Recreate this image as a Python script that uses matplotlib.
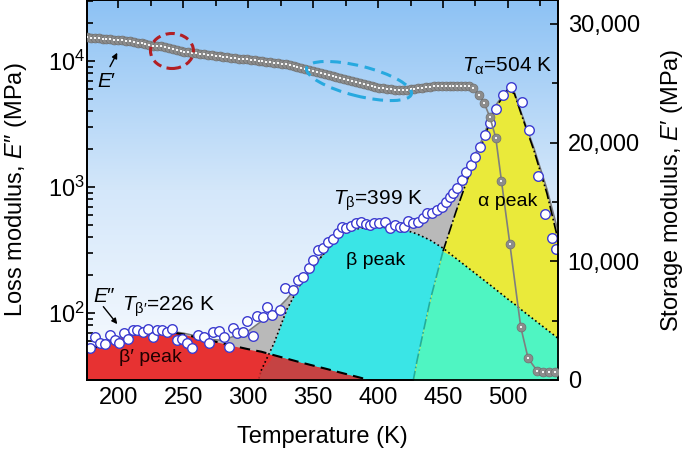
import numpy as np
import matplotlib.pyplot as plt
from matplotlib.colors import LinearSegmentedColormap
from matplotlib.patches import Ellipse
from matplotlib.ticker import MultipleLocator, FixedLocator, FuncFormatter
from matplotlib.transforms import Affine2D, ScaledTranslation

plt.rcParams['font.family'] = ['Liberation Sans', 'DejaVu Sans']
plt.rcParams['mathtext.fontset'] = 'custom'
plt.rcParams['mathtext.rm'] = 'Liberation Sans'
plt.rcParams['mathtext.it'] = 'Liberation Sans:italic'
plt.rcParams['mathtext.bf'] = 'Liberation Sans:bold'

# storage modulus E' (right axis, MPa)
T_stor = np.r_[np.arange(176, 474, 3),
               [477.8, 481.6, 486.0, 490.6, 495.0, 501.4, 509.8, 515.5, 522.4, 527.0, 531.6, 536.0]]
E_stor = [28870, 28840, 28810, 28780, 28750, 28720, 28690, 28670, 28640, 28600,
          28560, 28510, 28470, 28420, 28360, 28300, 28250, 28160, 28130, 28100,
          28060, 27980, 27880, 27790, 27720, 27660, 27600, 27550, 27510, 27470,
          27430, 27390, 27350, 27320, 27280, 27240, 27200, 27150, 27100, 27060,
          27020, 26990, 26960, 26920, 26880, 26840, 26800, 26750, 26710, 26660,
          26620, 26570, 26500, 26420, 26320, 26250, 26170, 26080, 25990, 25910,
          25830, 25750, 25660, 25580, 25500, 25420, 25340, 25260, 25170, 25090,
          25010, 24930, 24850, 24770, 24700, 24630, 24570, 24520, 24480, 24450,
          24440, 24440, 24450, 24480, 24530, 24580, 24630, 24670, 24700, 24720,
          24740, 24760, 24770, 24790, 24800, 24800, 24790, 24770, 24720, 24580,
          24030, 23340, 22160, 20400, 16750, 11490, 4480, 1820, 780, 650, 650, 650]

# loss modulus E'' (left axis, MPa)
T_loss = [178.3, 182.2, 186.0, 189.8, 193.7, 197.5, 200.6, 204.5, 207.5, 211.4,
          214.5, 219.1, 222.9, 226.8, 229.8, 233.7, 237.5, 241.4, 245.2, 249.1,
          252.9, 256.8, 261.4, 266.0, 269.8, 272.9, 277.5, 281.4, 285.2, 288.3,
          291.4, 296.0, 299.1, 303.7, 306.8, 311.4, 314.5, 318.3, 324.5, 328.3,
          334.5, 338.3, 342.2, 346.8, 349.8, 353.7, 357.5, 361.4, 365.2, 369.1,
          372.2, 375.2, 379.1, 382.9, 386.8, 390.6, 393.7, 396.8, 400.6, 405.2,
          409.1, 412.9, 416.8, 419.8, 422.9, 426.8, 430.6, 434.5, 437.5, 441.4,
          445.2, 449.1, 452.2, 455.2, 457.5, 460.6, 464.5, 467.5, 471.4, 474.5,
          478.3, 482.2, 486.0, 490.6, 496.0, 502.2, 510.6, 516.0, 522.9, 528.3,
          533.7, 536.8]
E_loss = [52.7, 64.6, 57.8, 56.8, 66.8, 61.1, 57.8, 69.3, 62.2, 73.3,
          73.3, 70.6, 74.7, 64.6, 73.3, 73.3, 70.6, 74.7, 61.1, 62.2,
          57.8, 52.7, 66.8, 64.6, 57.8, 70.6, 71.9, 64.6, 53.7, 76.0,
          69.3, 70.6, 86.5, 65.7, 94.6, 92.9, 111.6, 96.4, 105.6, 158,
          152, 183, 193, 228, 264, 316, 328, 366, 387, 431,
          482, 473, 490, 518, 527, 508, 499, 518, 518, 527,
          473, 499, 482, 482, 537, 518, 527, 568, 622, 622,
          657, 693, 760, 834, 896, 982, 1137, 1316, 1496, 1731,
          2076, 2587, 3222, 4160, 5370, 6220, 4730, 2830, 1222, 611,
          393, 322]

# fitted relaxation peaks and their sum
T_fit = [170, 180, 190, 200, 210, 220, 230, 240, 250, 260, 270, 280, 290, 300,
         310, 320, 330, 340, 350, 360, 370, 380, 390, 400, 410, 420, 430, 440,
         450, 460, 470, 480, 490, 500, 505, 510, 520, 530, 540]
beta1_pk = [46, 52, 58, 63, 67, 69.5, 70.8, 70.8, 68, 64.5, 61, 57.8, 54.6, 51.8,
            49.5, 46.4, 43.5, 40.8, 38.4, 36.2, 34.0, 32.0, 30.1, 28.3, 26.6, 25, 23.5, 22,
            20.7, 19.5, 18.3, 17.2, 16.2, 15.3, 14.8, 14.4, 13.5, 12.7, 12]
beta_pk = [2, 2, 2, 2, 2, 2, 2, 2, 2, 2, 2, 3, 6, 15,
           35, 58, 108, 168, 235, 310, 410, 460, 478, 482, 475, 460, 425, 380,
           328, 272, 226, 188, 156, 129, 118, 107, 89, 74, 61.5]
alpha_pk = [2, 2, 2, 2, 2, 2, 2, 2, 2, 2, 2, 2, 2, 2,
            2, 2, 2, 2, 2, 2, 2, 2, 2, 2, 2, 12, 42, 125,
            310, 640, 1250, 2200, 4200, 5950, 5500, 3850, 1950, 890, 330]
total_fit = [47, 53, 59, 64, 68, 70.5, 72, 72, 69.5, 66, 62, 61, 66, 72,
             86, 102, 130, 175, 228, 320, 420, 482, 505, 512, 510, 515, 545, 600,
             680, 960, 1450, 2380, 4380, 6080, 5620, 3960, 2040, 965, 392]

T_fit = np.array(T_fit)
beta1_pk = np.array(beta1_pk)
beta_pk = np.array(beta_pk)
alpha_pk = np.array(alpha_pk)
total_fit = np.array(total_fit)

fig = plt.figure(figsize=(6.85, 4.5), dpi=100)
rect = [87/685, 70/450, 471/685, 380/450]

# blue-to-white background
bg = fig.add_axes(rect, zorder=-1)
grad = np.linspace(0, 1, 256).reshape(-1, 1)
cmap = LinearSegmentedColormap.from_list('bg', ['#fafcff', '#d4e7fa', '#8dc2f4'])
bg.imshow(grad, aspect='auto', cmap=cmap, origin='lower', extent=[0, 1, 0, 1])
bg.axis('off')

ax = fig.add_axes(rect)
ax.patch.set_alpha(0)
ax.set_yscale('log')

base = 1
ax.fill_between(T_fit, base, total_fit, color='#b9b9b9', lw=0, zorder=1)
ax.fill_between(T_fit, base, beta_pk, color='#3ae5e6', lw=0, zorder=2)
ax.fill_between(T_fit, base, alpha_pk, color='#eaea3a', lw=0, zorder=2)
ax.fill_between(T_fit, base, beta1_pk, color='#e73232', lw=0, zorder=2)
ax.fill_between(T_fit, base, np.minimum(beta_pk, alpha_pk), color='#4ff5c2', lw=0, zorder=3)
ax.fill_between(T_fit, base, np.minimum(beta1_pk, beta_pk), color='#c54343', lw=0, zorder=3)

ax.plot(T_fit, total_fit, color='#7a7a7a', lw=1.1, zorder=4)
ax.plot(T_fit, beta1_pk, color='k', ls=(0, (5, 3)), lw=1.5, zorder=4)
m = T_fit >= 310
ax.plot(T_fit[m], beta_pk[m], color='k', ls=':', lw=1.2, zorder=4)
ax.plot(T_fit[~m | (T_fit == 310)], beta_pk[~m | (T_fit == 310)], color='#a82a2a', ls=':', lw=1.2, zorder=4)
m = T_fit >= 450
ax.plot(T_fit[m], alpha_pk[m], color='k', ls='-.', lw=1.2, zorder=4)
ax.plot(T_fit[T_fit <= 450], alpha_pk[T_fit <= 450], color='#1fae9e', ls='-.', lw=1.2, zorder=4)

ax.plot(T_loss, E_loss, 'o', ms=6.9, mfc='white', mec='#3b3bd0', mew=1.0, zorder=6)

ax.set_xlim(176, 538.5)
ax.set_ylim(29.5, 30500)

ax2 = ax.twinx()
ax2.plot(T_stor, E_stor, '-', color='#7f7f7f', lw=1.2, zorder=3)
ax2.plot(T_stor, E_stor, 'o', ms=6.4, mfc='#8c8c8c', mec='#6f6f6f', mew=0.5, zorder=4)
ax2.plot(T_stor, E_stor, 's', ms=2.0, color='#f4f4f4', mew=0, zorder=5)
ax2.set_ylim(0, 32000)
ax2.set_xlim(176, 538.5)

# ticks
ax.xaxis.set_major_locator(MultipleLocator(50))
ax.xaxis.set_minor_locator(MultipleLocator(25))
ax.tick_params(which='both', direction='in', top=True, right=False, labelsize=17, width=1.2)
ax.tick_params(which='major', length=6)
ax.tick_params(which='minor', length=4)
ax.tick_params(axis='x', pad=5)
ax.tick_params(axis='y', pad=1.5)
ax2.yaxis.set_major_locator(FixedLocator([0, 10000, 20000, 30000]))
ax2.yaxis.set_minor_locator(MultipleLocator(5000))
ax2.yaxis.set_major_formatter(FuncFormatter(lambda v, p: f'{int(v):,}'))
ax2.tick_params(which='both', direction='in', labelsize=17, width=1.2, pad=7)
ax2.tick_params(which='major', length=6)
ax2.tick_params(which='minor', length=4)
for a in (ax, ax2):
    for s in a.spines.values():
        s.set_linewidth(1.3)

ax.set_xlabel('Temperature (K)', fontsize=17)
ax.xaxis.set_label_coords(0.5, -0.122)
ax.set_ylabel('Loss modulus, $\\mathit{E}$\u2033 (MPa)', fontsize=17)
ax.yaxis.set_label_coords(-0.123, 0.5)
ax2.set_ylabel('Storage modulus, $\\mathit{E}$\u2032 (MPa)', fontsize=17)
ax2.yaxis.set_label_coords(1.214, 0.5)

# annotations
tA = ax.transAxes
ax2.text(0.892, 0.8105, '$\\mathit{T}_{\\mathrm{\u03b1}}$=504 K', transform=tA, ha='center', va='baseline', fontsize=15, zorder=9)
ax2.text(0.619, 0.4605, '$\\mathit{T}_{\\mathrm{\u03b2}}$=399 K', transform=tA, ha='center', va='baseline', fontsize=15, zorder=9)
ax2.text(0.172, 0.182, '$\\mathit{T}_{\\mathrm{\u03b2\u2032}}$=226 K', transform=tA, ha='center', va='baseline', fontsize=15, zorder=9)
ax2.text(0.021, 0.771, '$\\mathit{E}$\u2032', transform=tA, ha='left', va='baseline', fontsize=15, zorder=9)
ax2.text(0.013, 0.206, '$\\mathit{E}$\u2033', transform=tA, ha='left', va='baseline', fontsize=15, zorder=9)
ax2.text(0.134, 0.058, '\u03b2\u2032 peak', transform=tA, ha='center', va='center', fontsize=14, color='#200000', zorder=9)
ax2.text(0.6136, 0.3132, '\u03b2 peak', transform=tA, ha='center', va='center', fontsize=14, zorder=9)
ax2.text(0.8928, 0.4697, '\u03b1 peak', transform=tA, ha='center', va='center', fontsize=14, zorder=9)
arrow = dict(arrowstyle='-|>', color='k', lw=1.0, mutation_scale=8, shrinkA=0, shrinkB=0)
ax2.annotate('', xy=(0.0643, 0.8613), xytext=(0.0488, 0.8246), xycoords=tA, arrowprops=arrow, zorder=9)
ax2.annotate('', xy=(0.0643, 0.147), xytext=(0.0347, 0.193), xycoords=tA, arrowprops=arrow, zorder=9)


def ring(cx, cy, w, h, angle, color, dash):
    tr = Affine2D() + ScaledTranslation((cx - 87) / 471, 1 - cy / 380, ax2.transAxes)
    ax2.add_patch(Ellipse((0, 0), w, h, angle=angle, transform=tr, fill=False,
                          ec=color, lw=2.2, ls=(0, dash), zorder=8))


ring(172, 51, 43, 35, 0, '#b21f24', (3, 1.8))
ring(359, 81, 108, 30, -14, '#27a9df', (3.5, 2.2))

fig.savefig('out.png', dpi=100)
